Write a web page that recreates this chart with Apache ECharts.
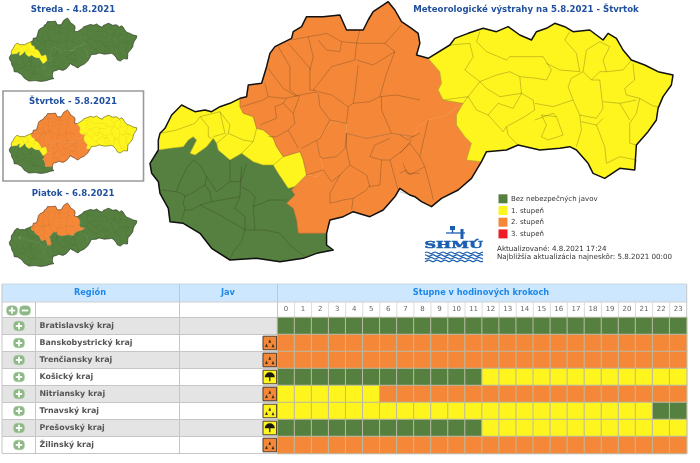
<!DOCTYPE html>
<html><head><meta charset="utf-8">
<script src="https://cdn.jsdelivr.net/npm/echarts@6/dist/echarts.min.js"></script>
<style>html,body{margin:0;padding:0;background:#fff}#c{width:700px;height:463px}</style>
</head><body><div id="c"></div>
<script>
// ---------- table data ----------
const hours = ['0','1','2','3','4','5','6','7','8','9','10','11','12','13','14','15','16','17','18','19','20','21','22','23'];
const regions = ['Bratislavský kraj','Banskobystrický kraj','Trenčiansky kraj','Košický kraj','Nitriansky kraj','Trnavský kraj','Prešovský kraj','Žilinský kraj'];
const bratislavsky = [0,0,0,0,0,0,0,0,0,0,0,0,0,0,0,0,0,0,0,0,0,0,0,0];
const banskobystricky = [2,2,2,2,2,2,2,2,2,2,2,2,2,2,2,2,2,2,2,2,2,2,2,2];
const trenciansky = [2,2,2,2,2,2,2,2,2,2,2,2,2,2,2,2,2,2,2,2,2,2,2,2];
const kosicky = [0,0,0,0,0,0,0,0,0,0,0,0,1,1,1,1,1,1,1,1,1,1,1,1];
const nitriansky = [1,1,1,1,1,1,2,2,2,2,2,2,2,2,2,2,2,2,2,2,2,2,2,2];
const trnavsky = [1,1,1,1,1,1,1,1,1,1,1,1,1,1,1,1,1,1,1,1,1,1,0,0];
const presovsky = [0,0,0,0,0,0,0,0,0,0,0,0,1,1,1,1,1,1,1,1,1,1,1,1];
const zilinsky = [2,2,2,2,2,2,2,2,2,2,2,2,2,2,2,2,2,2,2,2,2,2,2,2];
const regionLevels = [bratislavsky,banskobystricky,trenciansky,kosicky,nitriansky,trnavsky,presovsky,zilinsky];
const javKind = ['', 'storm','storm','wind','storm','storm','wind','storm'];
const javLevel = [0,2,2,1,2,1,1,2];
const levelColors = ['#55803f','#fff51e','#f58838','#ee1c25'];
const legendLabels = ['Bez nebezpečných javov','1. stupeň','2. stupeň','3. stupeň'];

// ---------- map zones: alert level per zone per day ----------
const zoneNames = ['juhozapad','severozapad','stredSever','stredJuh','vychod'];
const stredaLevels = [0,1,0,0,0];
const stvrtokLevels = [0,1,2,2,1];
const piatokLevels = [0,0,2,0,0];

// ---------- map geometry (3x-scale tracing, west and east sheets) ----------
const yellowNorth = [[25,450],[25,420],[30,400],[45,385],[65,345],[95,315],[115,325],[135,335],[165,330],[185,335],[210,320],[240,310],[270,295]];
const yellowOrange = [[270,295],[270,320],[280,340],[310,350],[320,385],[340,390],[370,415],[380,440]];
const bumpTop = [[380,440],[400,470],[450,455],[460,480],[470,525]];
const bumpEast = [[470,525],[435,560]];
const bumpSouth = [[435,560],[415,565],[385,520],[370,495],[340,495],[310,485],[275,460],[240,480],[205,450],[200,430],[190,415],[170,440],[135,465],[120,460],[140,420],[130,410],[115,420],[100,440],[60,445],[25,450]];
const greenOrange = [[435,560],[425,570],[435,585],[410,610],[430,625],[440,660],[445,700],[530,700]];
const greenSouth = [[530,700],[530,735],[550,750],[500,760],[460,775],[390,785],[320,775],[240,780],[185,745],[150,700],[100,670],[60,665],[55,625],[30,580],[25,545],[5,520],[0,490],[25,450]];
const orangeNorthW = [[270,295],[290,290],[295,255],[335,250],[350,200],[360,160],[375,140],[425,115],[430,95],[455,80],[470,50],[520,50],[570,45],[590,90],[640,90],[655,60],[670,35],[715,5],[735,30],[755,65],[785,85]];
const orangeNorthE = [[55,100],[60,130],[50,165],[85,175]];
const orangeEastUpper = [[85,175],[120,215],[125,250],[115,270],[130,300],[190,310]];
const orangeEastLower = [[190,310],[170,345],[170,375],[195,410],[215,430],[200,480],[245,485]];
const orangeSouthE = [[245,485],[215,535],[175,570],[125,595],[95,620],[65,605],[45,590]];
const orangeSouthW = [[780,585],[750,565],[735,590],[700,630],[660,650],[610,635],[580,650],[540,660],[530,700]];
const splitW = [[470,525],[500,530],[520,510],[510,470],[500,420],[545,365],[590,370],[590,400],[650,415],[725,400],[790,410]];
const splitE = [[45,405],[55,380],[85,360],[140,345],[190,310]];
const yellowEast = [[85,175],[150,135],[165,115],[205,100],[250,85],[290,95],[325,80],[360,105],[395,120],[410,95],[440,85],[465,70],[495,80],[520,95],[570,90],[610,120],[625,100],[650,115],[670,150],[695,180],[735,195],[775,215],[820,225],[815,255],[790,290],[775,325],[770,360],[745,395],[710,435],[705,510],[660,505],[615,535],[580,520],[565,490],[530,450],[510,440],[480,445],[420,450],[355,435],[320,450],[260,455],[245,485]];

const districtsW = [
 [[130,480],[110,505],[90,545],[80,575],[35,570]],
 [[130,480],[150,495],[170,530],[200,575],[240,545],[240,480]],
 [[80,575],[105,585],[100,610],[105,630],[95,660]],
 [[170,530],[165,555],[125,580],[105,590]],
 [[165,555],[180,575],[185,605],[150,615],[125,630],[105,630]],
 [[240,545],[272,545],[290,490]],
 [[275,500],[272,545],[270,590],[185,605]],
 [[275,560],[300,575],[315,590],[310,620],[315,690]],
 [[270,590],[255,625],[285,650],[285,690]],
 [[150,615],[200,640],[270,680],[285,690],[345,690],[390,700],[420,735],[465,770]],
 [[285,690],[275,725],[250,755],[240,780]],
 [[310,620],[360,600],[410,600]],
 [[30,400],[80,390],[135,370],[150,350],[175,380],[175,410],[185,415]],
 [[150,350],[210,335],[225,400],[190,410]],
 [[210,335],[240,375],[235,400],[280,420],[310,425],[320,385]],
 [[235,400],[200,430]],[[310,425],[275,460]],[[370,495],[400,470]],
 [[345,250],[355,290],[405,295],[450,285],[505,275],[545,285],[595,320],[590,370]],
 [[275,320],[340,300],[355,290]],
 [[355,205],[400,265],[440,290]],
 [[385,140],[420,200],[420,270],[445,290]],
 [[415,130],[480,205],[480,270],[500,272]],
 [[475,110],[490,170],[480,210]],
 [[425,120],[475,110],[505,105],[530,100],[575,125],[630,130]],
 [[505,120],[530,150],[570,155],[575,125]],
 [[490,270],[545,200],[615,180],[620,130],[630,90]],
 [[620,180],[670,195],[735,155],[705,130],[755,75]],
 [[630,130],[705,130]],
 [[625,195],[615,280],[610,310],[660,305],[690,290],[710,220],[735,155]],
 [[690,290],[740,285],[810,300]],
 [[505,280],[510,320],[540,360],[590,370]],
 [[595,320],[610,310]],
 [[410,295],[400,310],[375,320],[380,355],[330,375]],
 [[400,310],[430,340],[435,370],[415,390],[445,445]],
 [[415,390],[380,410],[355,410]],[[430,340],[450,285]],
 [[540,360],[510,415],[455,445]],
 [[500,420],[510,470],[520,475],[560,470],[585,445],[590,400]],
 [[725,400],[695,330],[695,290]],
 [[590,400],[590,445],[600,495],[650,525],[660,560],[690,555],[695,480],[660,470],[675,435],[720,415]],
 [[600,495],[570,525],[540,580],[540,610],[580,600],[610,595],[605,630]],
 [[610,595],[650,570],[660,555]],
 [[470,525],[520,510],[545,545],[570,525]],
 [[695,480],[720,480],[745,570],[740,590]],
 [[760,490],[770,520],[810,520]],
 [[720,480],[760,450],[785,420]],
 [[590,400],[650,415],[725,400],[790,410],[810,400]]
];
const districtsE = [
 [[150,135],[210,130],[220,170],[195,210],[240,245],[290,225],[330,215],[360,230],[410,235],[440,240],[455,210],[430,170],[390,170],[330,170],[320,180],[260,155],[230,125],[240,95]],
 [[240,245],[205,290],[230,330],[265,345],[295,310],[340,325],[365,280],[400,300],[405,330],[375,350],[320,380],[325,405],[355,435]],
 [[205,290],[130,300]],[[205,290],[190,310]],
 [[265,345],[310,395],[320,380]],
 [[240,245],[260,265],[300,290],[365,280]],[[360,230],[365,280]],
 [[405,310],[460,320],[520,300],[540,345],[590,355],[610,325],[600,240],[575,240],[550,215],[515,235],[505,260],[520,300]],
 [[440,190],[480,210],[540,215],[530,160],[495,120],[510,95]],
 [[550,215],[560,150],[600,125],[630,140],[610,180],[620,215],[670,210],[695,180]],
 [[575,240],[600,215],[620,215]],
 [[700,190],[705,240],[675,265],[680,285],[720,295],[710,340],[690,370],[690,430],[710,435]],
 [[720,295],[760,318],[775,320]],
 [[610,305],[660,310],[710,300]],
 [[590,375],[615,440],[620,490],[660,470],[710,480],[705,510]],
 [[690,360],[660,310]],
 [[590,375],[610,355]],
 [[540,345],[545,390],[530,440]],[[545,365],[590,375]],
 [[425,345],[470,350],[490,405],[445,420],[425,410],[440,375],[425,345]],
 [[405,360],[460,340],[470,350]],
 [[0,405],[25,420],[45,405]],[[0,460],[30,430],[60,470],[75,500],[30,525],[20,510],[0,520]],
 [[75,500],[95,575],[100,600]],[[60,470],[85,360]],[[0,575],[45,590]]
];

const W = p => [150 + p[0] / 3, -p[1] / 3];
const E = p => [400 + p[0] / 3, -p[1] / 3];
const ring = (...parts) => { const r = parts.flat(); r.push(r[0]); return r; };
const rev = a => a.slice().reverse();
const zoneRings = [
 ring(rev(bumpSouth).map(W), greenOrange.map(W), greenSouth.map(W)),
 ring(yellowNorth.map(W), yellowOrange.map(W), bumpTop.map(W), bumpEast.map(W), bumpSouth.map(W)),
 ring(orangeNorthW.map(W), orangeNorthE.map(E), orangeEastUpper.map(E), rev(splitE).map(E), rev(splitW).map(W), rev(bumpTop).map(W), rev(yellowOrange).map(W)),
 ring(splitW.map(W), splitE.map(E), orangeEastLower.map(E), orangeSouthE.map(E), orangeSouthW.map(W), rev(greenOrange).map(W), rev(bumpEast).map(W)),
 ring(yellowEast.map(E), rev(orangeEastLower).map(E), rev(orangeEastUpper).map(E))
];
echarts.registerMap('slovensko', {type:'FeatureCollection', features: zoneNames.map((n,i)=>({
  type:'Feature', properties:{name:n}, geometry:{type:'Polygon', coordinates:[zoneRings[i]]}
}))});
const outline = [].concat(yellowNorth.map(W), orangeNorthW.map(W), orangeNorthE.map(E), yellowEast.map(E), orangeSouthE.map(E), orangeSouthW.map(W), greenSouth.map(W));
const districts = districtsW.map(l=>l.map(W)).concat(districtsE.map(l=>l.map(E)));
const zoneEdges = [yellowOrange, bumpTop, bumpEast, bumpSouth, greenOrange].map(l=>l.map(W)).concat([orangeEastUpper, orangeEastLower].map(l=>l.map(E)));

const mapFrames = [
 {left:150,top:2,width:523,height:260,levels:stvrtokLevels,inner:.5,outer:1.5,op:.5},
 {left:9.3,top:18,width:127.5,height:63.5,levels:stredaLevels,inner:.2,outer:.55,op:.28},
 {left:9.3,top:110,width:127.5,height:63.5,levels:stvrtokLevels,inner:.2,outer:.55,op:.28},
 {left:9.3,top:203,width:127.5,height:63.5,levels:piatokLevels,inner:.2,outer:.55,op:.28}
];
const geos = mapFrames.map(f=>({
  map:'slovensko', aspectScale:1, roam:false, silent:true, left:f.left, top:f.top, width:f.width, height:f.height,
  boundingCoords:[[150,-2],[673.3,-262]],
  itemStyle:{borderWidth:0,areaColor:'#fff'},
  emphasis:{disabled:true}, select:{disabled:true}, label:{show:false},
  regions: zoneNames.map((n,i)=>({name:n,itemStyle:{areaColor:levelColors[f.levels[i]],borderColor:levelColors[f.levels[i]],borderWidth:.4}}))
}));
const mapSeries = [];
mapFrames.forEach((f,i)=>{
  mapSeries.push({type:'lines',coordinateSystem:'geo',geoIndex:i,polyline:true,silent:true,z:3,symbol:'none',
    lineStyle:{color:'#2a2616',opacity:f.op,width:f.inner,curveness:0},
    data:districts.concat(zoneEdges).map(c=>({coords:c}))});
  mapSeries.push({type:'lines',coordinateSystem:'geo',geoIndex:i,polyline:true,silent:true,z:4,symbol:'none',
    lineStyle:{color:'#111',opacity:i?.75:1,width:f.outer,join:'round'},
    data:[{coords:outline.concat([outline[0]])}]});
});

// ---------- page furniture ----------
const blue = '#1f4f9e', headBlue = '#1e88e8', uiFont = '"DejaVu Sans"', logoBlue = '#1c5fb0';
const tx = (x,y,text,o={}) => ({type:'text',x,y,silent:true,z:10,style:Object.assign({text,fontFamily:uiFont,fontSize:8,fill:'#333',align:'left',verticalAlign:'middle'},o)});
const rc = (x,y,w,h,fill,o={}) => ({type:'rect',silent:true,z:o.z||1,shape:{x,y,width:w,height:h,r:o.r||0},style:{fill,stroke:o.stroke||null,lineWidth:o.lw||0}});
const ln = (x1,y1,x2,y2,c,w=1) => ({type:'line',silent:true,z:2,shape:{x1,y1,x2,y2},style:{stroke:c,lineWidth:w}});
const g = [];
// titles
g.push(tx(526,9.5,'Meteorologické výstrahy na 5.8.2021 - Štvrtok',{fill:blue,fontWeight:'bold',align:'center',fontSize:8.6}));
[['Streda - 4.8.2021',9.5],['Štvrtok - 5.8.2021',102],['Piatok - 6.8.2021',194]].forEach(t=>g.push(tx(73,t[1],t[0],{fill:blue,fontWeight:'bold',align:'center',fontSize:8.6})));
g.push(rc(3,91,140.5,90,'none',{stroke:'#9a9a9a',lw:1.6}));
// legend
legendLabels.forEach((t,i)=>{
  g.push(rc(498.5,194.3+i*11.7,9,9,levelColors[i]));
  g.push(tx(511,199+i*11.7,t,{fontSize:7,fill:'#333'}));
});
g.push(tx(497,249,'Aktualizované: 4.8.2021 17:24',{fontSize:7.15}));
g.push(tx(497,257.5,'Najbližšia aktualizácia najneskôr: 5.8.2021 00:00',{fontSize:7.15}));
// logo
g.push({type:'text',silent:true,z:10,x:424.5,y:241,scaleX:1.28,scaleY:.72,style:{text:'SHMÚ',fontFamily:'"DejaVu Serif"',fontWeight:'bold',fontSize:12.5,fill:logoBlue,stroke:logoBlue,lineWidth:.7}});
const wavePhase = [0,1,2,3];
[252.8,255.5,258.2,260.9].forEach((y,k)=>{
  const pts=[]; for(let x=425;x<=484;x+=2){const s=(Math.floor((x-425)/2)+wavePhase[k])%4; pts.push([x, y+(s===1?-0.8:(s===3?0.8:0))]);}
  g.push({type:'polyline',silent:true,z:10,shape:{points:pts,smooth:.4},style:{stroke:logoBlue,lineWidth:1.2,fill:null}});
});
g.push(rc(450,226,5,4,logoBlue),ln(452.5,226,452.5,233,logoBlue,1.4),ln(446,233,465,233,logoBlue,1.3),rc(460.5,229,3,10,logoBlue));
// table chrome
const T={x:2,top:284,hb:302,rows:317.5,rh:17,c1:35.5,c2:179.5,c3:277.5,right:686.7,cw:17.05};
g.push(rc(T.x,T.top,T.right-T.x,T.hb-T.top,'#cde8fe'));
regions.forEach((r,i)=>{ if(i%2===0) g.push(rc(T.x,T.rows+i*T.rh,T.c3-T.x,T.rh,'#e4e4e4')); });
for(let i=0;i<=8;i++) g.push(ln(T.x,T.rows+i*T.rh,T.c3,T.rows+i*T.rh,'#c6c6c6'));
g.push(ln(T.x,T.rows,T.right,T.rows,'#c6c6c6'),ln(T.x,T.hb,T.right,T.hb,'#d0d0d0'),ln(T.x,T.top,T.right,T.top,'#c9d6df'));
[T.x,T.c1,T.c2,T.c3].forEach((x,i)=>{
  g.push(ln(x,i===1?T.hb:T.top,x,T.rows+8*T.rh,'#c6c6c6'));
});
hours.forEach((h,i)=>{ if(i) g.push(ln(T.c3+i*T.cw,T.hb,T.c3+i*T.cw,T.rows,'#dcdcdc')); });
g.push(ln(T.right,T.top,T.right,T.rows+8*T.rh,'#c6c6c6'));
g.push(tx(90,293,'Región',{fill:headBlue,fontWeight:'bold',align:'center',fontSize:8.2}));
g.push(tx(228,293,'Jav',{fill:headBlue,fontWeight:'bold',align:'center',fontSize:8.2}));
g.push(tx(481,293,'Stupne v hodinových krokoch',{fill:headBlue,fontWeight:'bold',align:'center',fontSize:8.2}));
const btn=(cx,cy,plus)=>{
  g.push(rc(cx-5.5,cy-4.8,11,9.6,'#8db886',{r:4,z:5,stroke:'#a9cda3',lw:.5}));
  g.push(rc(cx-3.2,cy-.9,6.4,1.8,'#fff',{z:6}));
  if(plus) g.push(rc(cx-.9,cy-3.2,1.8,6.4,'#fff',{z:6}));
};
btn(12,310.5,true);btn(25,310.5,false);
regions.forEach((r,i)=>{
  const y=T.rows+i*T.rh, cy=y+T.rh/2;
  btn(19,cy,true);
  if(!javKind[i]) return;
  const X=263,Y=y+1.7;
  g.push(rc(X,Y,13.6,13.6,levelColors[javLevel[i]],{z:5,stroke:'#4a3b2b',lw:1}));
  if(javKind[i]==='storm'){
    [[X+3.5,Y+9.8],[X+6.8,Y+5.5],[X+10,Y+10]].forEach(p=>{
      g.push({type:'polygon',silent:true,z:6,shape:{points:[[p[0],p[1]-2.4],[p[0]+1.4,p[1]+1],[p[0]-1.4,p[1]+1]]},style:{fill:'#3a2a10'}});
    });
  } else {
    g.push({type:'sector',silent:true,z:6,shape:{cx:X+6.8,cy:Y+7,r:5,r0:0,startAngle:Math.PI,endAngle:2*Math.PI},style:{fill:'#1a1a10'}});
    g.push(rc(X+6.2,Y+6.5,1.2,4.5,'#1a1a10',{z:6}));
  }
});

const cells=[];
regionLevels.forEach((row,y)=>row.forEach((v,x)=>cells.push([x,y,v])));

const chart = echarts.init(document.getElementById('c'),null,{renderer:'canvas'});
chart.setOption({
  animation:false, backgroundColor:'#fff',
  textStyle:{fontFamily:uiFont},
  geo:geos,
  grid:{left:T.c3,top:T.rows,width:T.right-T.c3,height:8*T.rh,containLabel:false},
  xAxis:{type:'category',position:'top',data:hours,axisLine:{show:false},axisTick:{show:false},splitLine:{show:false},z:6,
    axisLabel:{interval:0,fontSize:7,color:'#666',margin:5,fontFamily:uiFont}},
  yAxis:{type:'category',inverse:true,data:regions,axisLine:{show:false},axisTick:{show:false},splitLine:{show:false},z:6,
    axisLabel:{interval:0,align:'left',margin:T.c3-39.5,fontSize:7.9,fontWeight:'bold',color:'#555',fontFamily:uiFont}},
  visualMap:{show:false,type:'piecewise',seriesIndex:0,dimension:2,pieces:levelColors.map((c,i)=>({value:i,color:c}))},
  series:[{type:'heatmap',data:cells,silent:true,z:2,itemStyle:{borderColor:'#b9b9a3',borderWidth:1},emphasis:{disabled:true}}].concat(mapSeries),
  graphic:{elements:g}
});
</script></body></html>
